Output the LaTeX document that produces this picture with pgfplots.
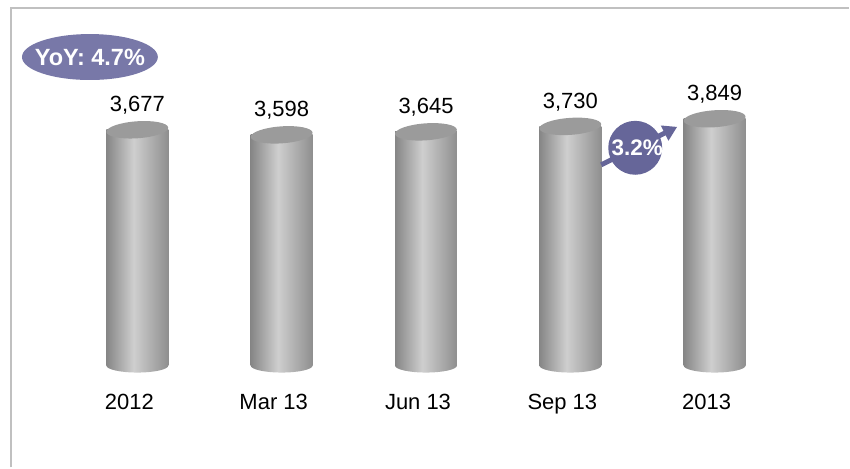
\documentclass[border=0pt]{standalone}
\usepackage{pgfplots}
\pgfplotsset{compat=1.18}
\usepackage{pgfplotstable}
\usepackage{fontspec}
\setmainfont{Liberation Sans}
\usetikzlibrary{arrows.meta}

\pgfplotstableread[col sep=comma]{
x,value,base,ly,label
0,3677,0,-685,2012
1,3598,0,-685,Mar 13
2,3645,0,-685,Jun 13
3,3730,0,-685,Sep 13
4,3849,0,-685,2013
}\data

\definecolor{framegray}{RGB}{192,192,192}
\definecolor{yoyfill}{RGB}{120,120,168}
\definecolor{circfill}{RGB}{102,102,153}
\definecolor{captop}{RGB}{155,155,155}

\pgfdeclarehorizontalshading{cyl}{100bp}{color(0bp)=(gray!95); color(25bp)=(gray!95); color(47bp)=(gray!38); color(75bp)=(gray!88); color(100bp)=(gray!88)}

\pgfdeclareplotmark{cyltop}{%
  \pgfpathellipse{\pgfpointorigin}{\pgfpointpolar{4}{31pt}}{\pgfpointpolar{94}{8.5pt}}%
  \pgfusepathqfill}
\pgfdeclareplotmark{cylbot}{%
  \pgfpathellipse{\pgfpointorigin}{\pgfpoint{31pt}{0pt}}{\pgfpoint{0pt}{7pt}}%
  \pgfshadepath{cyl}{0}\pgfusepath{discard}}

\begin{document}
\begin{tikzpicture}
\begin{axis}[
  scale only axis, width=850pt, height=468pt,
  xmin=-0.9516, xmax=4.931, ymin=-1589, ymax=5701,
  hide axis, clip=false,
  /pgf/number format/assume math mode=true,
  /pgf/number format/1000 sep={,},
]
\path (rel axis cs:0,0) (rel axis cs:1,1);
\draw[framegray, line width=2pt] (rel axis cs:0.0129,0) -- (rel axis cs:0.0129,0.983) -- (rel axis cs:1,0.983);

\addplot[only marks, mark=cylbot] table[x=x,y=base]{\data};
\pgfplotsinvokeforeach{0,...,4}{
\addplot[ybar, bar shift=0pt, bar width=0.429, draw=none, shading=cyl,
  restrict x to domain=#1:#1,
  nodes near coords,
  nodes near coords style={anchor=base, yshift=18pt, text=black, font=\fontsize{22}{26}\selectfont}]
  table[x=x,y=value]{\data};
}
\addplot[only marks, mark=cyltop, mark options={fill=captop, draw=none}] table[x=x,y=value]{\data};

\addplot[only marks, mark=none, nodes near coords, point meta=explicit symbolic,
  nodes near coords style={anchor=base, xshift=-8pt, text=black, font=\fontsize{22}{26}\selectfont}]
  table[x=x,y=ly,meta=label]{\data};

\fill[yoyfill] (rel axis cs:0.1059,0.878) ellipse [x radius=68pt, y radius=23pt];
\node[text=white, font=\fontsize{23.5}{26}\selectfont\bfseries] at (rel axis cs:0.1059,0.878) {YoY: 4.7\%};

\draw[circfill, line width=5pt, -{Triangle[length=14pt,width=16pt]}] (rel axis cs:0.7082,0.6474) -- (rel axis cs:0.7976,0.7286);
\fill[circfill] (rel axis cs:0.7482,0.6838) circle[radius=27pt];
\node[text=white, font=\fontsize{22.5}{25}\selectfont\bfseries] at (rel axis cs:0.7506,0.6838) {3.2\%};
\end{axis}
\end{tikzpicture}
\end{document}
